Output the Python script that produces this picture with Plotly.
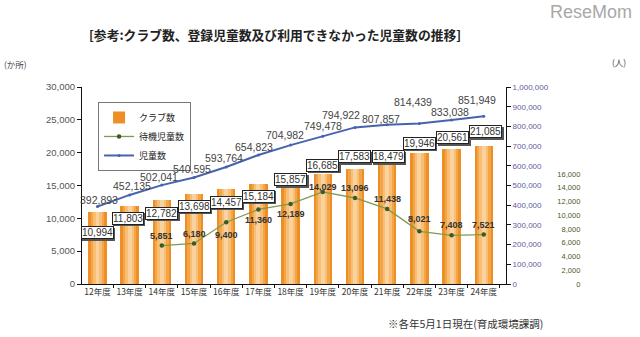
import plotly.graph_objects as go

# ---------------- data ----------------
years = ["12年度", "13年度", "14年度", "15年度", "16年度", "17年度", "18年度",
         "19年度", "20年度", "21年度", "22年度", "23年度", "24年度"]
clubs = [10994, 11803, 12782, 13698, 14457, 15184, 15857,
         16685, 17583, 18479, 19946, 20561, 21085]
children = [392893, 452135, 502041, 540595, 593764, 654823, 704982,
            749478, 794922, 807857, 814439, 833038, 851949]
waiting = [None, None, 5851, 6180, 9400, 11360, 12189,
           14029, 13096, 11438, 8021, 7408, 7521]
left_ticks = [0, 5000, 10000, 15000, 20000, 25000, 30000]
right_ticks = [0, 100000, 200000, 300000, 400000, 500000,
               600000, 700000, 800000, 900000, 1000000]
third_ticks = [0, 2000, 4000, 6000, 8000, 10000, 12000, 14000, 16000]

# ---------------- label offsets (pixels, style only) ----------------
bar_dy = [-21, -12, -13, -12, -13, -12, 0, 9, 12, 6, 10, 11, 14]
bar_dx = [0, -2, 0, 0, 0, 0, 0, 0, -1, 1, 0, 1, 2]
child_dy = [7, 9, 8, 9, 9, 8, 10, 10, 12, 6, 22, 8, 16]
child_dx = [2, 2, -3, -2, -2, -4, -6, 0, -14, -6, -6, -2, -7]
wait_dy = [0, 0, 10, 9, -13, -11, -10, 5, 10, 10, 12, 10, 10]

NUM = "Liberation Sans, Arial, sans-serif"
JP = "Noto Sans CJK JP, sans-serif"

fig = go.Figure()

# bars with a fake horizontal gradient (overlay of narrower, lighter bars)
bar_layers = [(0.57, "#EE8F26", True), (0.42, "#F3A548", False),
              (0.27, "#F7BE74", False), (0.12, "#FAD29F", False)]
for w, c, show in bar_layers:
    fig.add_trace(go.Bar(x=years, y=clubs, width=w, marker=dict(color=c, line=dict(width=0)),
                         name="クラブ数", showlegend=show, legendrank=1,
                         hoverinfo=None if show else "skip"))

fig.add_trace(go.Scatter(x=years, y=waiting, mode="lines+markers", name="待機児童数",
                         line=dict(color="#7E9A52", width=1.3),
                         marker=dict(color="#3E5A22", size=4.5), legendrank=2,
                         connectgaps=False))

fig.add_trace(go.Scatter(x=years, y=children, mode="lines+markers", name="児童数",
                         yaxis="y2", line=dict(color="#4663AD", width=2),
                         marker=dict(color="#4663AD", size=3), legendrank=3))

# invisible trace to show the third axis
fig.add_trace(go.Scatter(x=[years[0]], y=[None], yaxis="y3", showlegend=False,
                         hoverinfo="skip"))

ann = []
# bar value boxes (shadow + box)
for i, (x, v) in enumerate(zip(years, clubs)):
    txt = f"{v:,}"
    ann.append(dict(x=x, y=v, xref="x", yref="y", text=txt, showarrow=False,
                    xshift=bar_dx[i] + 1.5, yshift=bar_dy[i] - 1.5,
                    font=dict(family=NUM, size=10, color="#555"),
                    bgcolor="#555", bordercolor="#555", borderwidth=1, borderpad=0))
    ann.append(dict(x=x, y=v, xref="x", yref="y", text=txt, showarrow=False,
                    xshift=bar_dx[i], yshift=bar_dy[i],
                    font=dict(family=NUM, size=10, color="#333"),
                    bgcolor="white", bordercolor="#222", borderwidth=1, borderpad=0))
# children labels
for i, (x, v) in enumerate(zip(years, children)):
    ann.append(dict(x=x, y=v, xref="x", yref="y2", text=f"{v:,}", showarrow=False,
                    xshift=child_dx[i], yshift=child_dy[i],
                    font=dict(family=NUM, size=10.5, color="#444")))
# waiting labels
for i, (x, v) in enumerate(zip(years, waiting)):
    if v is None:
        continue
    ann.append(dict(x=x, y=v, xref="x", yref="y", text=f"<b>{v:,}</b>", showarrow=False,
                    yshift=wait_dy[i],
                    font=dict(family=NUM, size=9, color="#333")))

# texts
def ptext(text, x, y, size, color, family=JP):
    return dict(text=text, xref="paper", yref="paper", x=x, y=y, showarrow=False,
                xanchor="center", yanchor="middle",
                font=dict(family=family, size=size, color=color))

ann.append(ptext("<b>[参考:クラブ数、登録児童数及び利用できなかった児童数の推移]</b>",
                 0.3726, 1.269, 12.8, "#222"))
ann.append(ptext("(か所)", -0.1293, 1.117, 8.5, "#444"))
ann.append(ptext("(人)", 1.0367, 1.127, 8.5, "#444"))
ann.append(ptext("※各年5月1日現在(育成環境課調)", 0.741, -0.198, 10.5, "#333"))
ann.append(ptext("ReseMom", 0.9826, 1.381, 18, "#a8a8a8", NUM))

fig.update_layout(
    width=640, height=337,
    margin=dict(l=82, r=40, t=87, b=53),
    paper_bgcolor="white", plot_bgcolor="white",
    barmode="overlay", bargap=0,
    font=dict(family=JP, color="#333"),
    showlegend=True,
    annotations=ann,
    legend=dict(x=0.031, y=0.924, xanchor="left", yanchor="top",
                bgcolor="white", bordercolor="#777", borderwidth=1,
                font=dict(family=JP, size=9, color="#222"),
                itemwidth=30, tracegroupgap=0),
    xaxis=dict(domain=[0, 0.8185], type="category", range=[-0.48, 12.69],
               showline=True, linecolor="#111", linewidth=1,
               ticks="outside", ticklen=3, tickcolor="#111", tickson="boundaries",
               tickangle=0,
               tickfont=dict(family=JP, size=8.5, color="#333"),
               showgrid=False, zeroline=False),
    yaxis=dict(range=[0, 30000], tickvals=left_ticks, tickformat=",",
               showline=True, linecolor="#111", linewidth=1,
               ticks="outside", ticklen=4, tickcolor="#111",
               tickfont=dict(family=NUM, size=9.5, color="#555"),
               showgrid=False, zeroline=False),
    yaxis2=dict(range=[0, 1000000], tickvals=right_ticks, tickformat=",",
                overlaying="y", side="right", anchor="x",
                showline=True, linecolor="#111", linewidth=1,
                ticks="outside", ticklen=4, tickcolor="#111",
                tickfont=dict(family=NUM, size=8, color="#5C5C99"),
                showgrid=False, zeroline=False),
    yaxis3=dict(range=[0, 28650], tickvals=third_ticks, tickformat=",",
                overlaying="y", side="left", anchor="free", position=0.962,
                showline=False, ticks="",
                tickfont=dict(family=NUM, size=7.5, color="#4A5A28"),
                showgrid=False, zeroline=False),
)

fig.write_html("out.html")
